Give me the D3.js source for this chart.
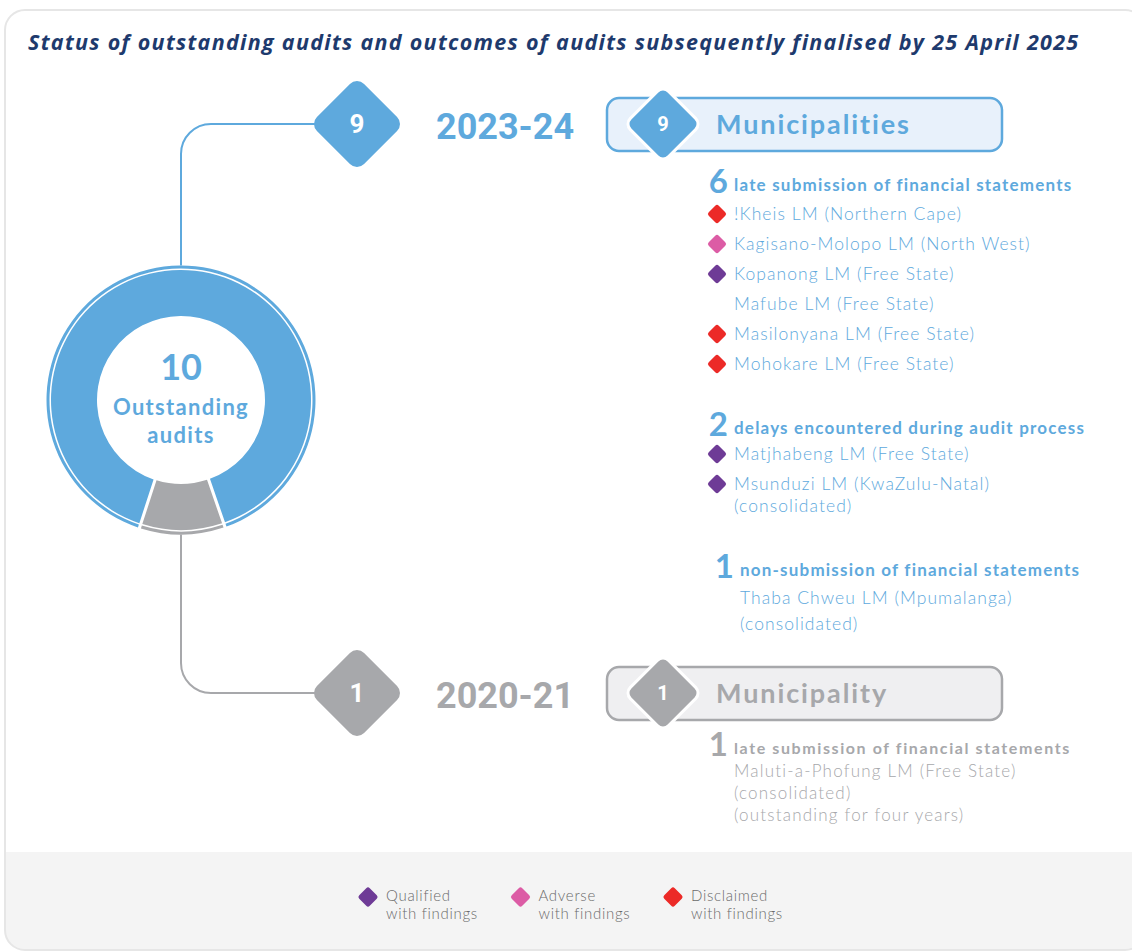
<!DOCTYPE html>
<html>
<head>
<meta charset="utf-8">
<script src="https://cdn.jsdelivr.net/npm/d3@7"></script>
<style>
  html, body { margin: 0; padding: 0; background: #fff; }
  svg { display: block; }
</style>
</head>
<body>
<svg id="chart" width="1132" height="951"></svg>
<script>
const title = 'Status of outstanding audits and outcomes of audits subsequently finalised by 25 April 2025';

// outstanding audits per financial year
const years = ['2023-24', '2020-21'];
const outstanding = [9, 1];
const unitLabels = ['Municipalities', 'Municipality'];

// reasons the audits are outstanding
const reasonYear = ['2023-24', '2023-24', '2023-24', '2020-21'];
const reasonCounts = [6, 2, 1, 1];
const reasonLabels = [
    'late submission of financial statements',
    'delays encountered during audit process',
    'non-submission of financial statements',
    'late submission of financial statements'
];

// auditees, the reason they belong to and the outcome once finalised
const auditeeNames = [
    '!Kheis LM (Northern Cape)',
    'Kagisano-Molopo LM (North West)',
    'Kopanong LM (Free State)',
    'Mafube LM (Free State)',
    'Masilonyana LM (Free State)',
    'Mohokare LM (Free State)',
    'Matjhabeng LM (Free State)',
    'Msunduzi LM (KwaZulu-Natal)',
    'Thaba Chweu LM (Mpumalanga)',
    'Maluti-a-Phofung LM (Free State)'
];
const auditeeReason = [0, 0, 0, 0, 0, 0, 1, 1, 2, 3];
const auditeeOutcome = ['Disclaimed', 'Adverse', 'Qualified', null, 'Disclaimed', 'Disclaimed',
    'Qualified', 'Qualified', null, null];
const auditeeNotes = [[], [], [], [], [], [], [], ['(consolidated)'], ['(consolidated)'],
    ['(consolidated)', '(outstanding for four years)']];

const outcomes = ['Qualified', 'Adverse', 'Disclaimed'];
const outcomeSubLabel = 'with findings';

const width = 1132;
const height = 951;
const svg = d3.select('#chart');

const yearColor = d3.scaleOrdinal().domain(years).range(['#5ea9dd', '#a7a8ab']);
const yearFill = d3.scaleOrdinal().domain(years).range(['#e8f1fb', '#efeff1']);
const outcomeColor = d3.scaleOrdinal().domain(outcomes).range(['#6e3b96', '#dc5ca5', '#ec2a27']);

const numFont = 'Roboto, sans-serif';
const headFont = 'Lato, sans-serif';
const bodyFont = 'Lato, sans-serif';

// card + legend strip
const defs = svg.append('defs');
defs.append('clipPath').attr('id', 'card-clip')
    .append('rect')
    .attr('x', 5).attr('y', 10).attr('width', 1140).attr('height', 940).attr('rx', 20);

svg.append('rect')
    .attr('x', 5).attr('y', 10).attr('width', 1140).attr('height', 940).attr('rx', 20)
    .attr('fill', '#fff');
svg.append('rect')
    .attr('clip-path', 'url(#card-clip)')
    .attr('x', 0).attr('y', 852).attr('width', width).attr('height', 110)
    .attr('fill', '#f4f4f4');
svg.append('rect')
    .attr('x', 5).attr('y', 10).attr('width', 1140).attr('height', 940).attr('rx', 20)
    .attr('fill', 'none').attr('stroke', '#e6e6e6').attr('stroke-width', 2);

svg.append('text')
    .attr('x', 28).attr('y', 50)
    .attr('font-family', 'Open Sans, sans-serif')
    .attr('font-weight', 700).attr('font-style', 'italic')
    .attr('font-size', 21.5)
    .attr('letter-spacing', 1.3)
    .attr('fill', '#1e3a6d')
    .text(title);

function diamond(g, cx, cy, extent, r) {
    const s = (extent + r * (Math.SQRT2 - 1)) * Math.SQRT2;
    return g.append('rect')
        .attr('transform', `translate(${cx},${cy}) rotate(45)`)
        .attr('x', -s / 2).attr('y', -s / 2)
        .attr('width', s).attr('height', s)
        .attr('rx', r);
}

// donut
const cx = 181, cy = 400;
const pie = d3.pie().sort(null)
    .startAngle(Math.PI + Math.PI / 10)
    .endAngle(3 * Math.PI + Math.PI / 10)
    .padAngle(0.024);
const arcs = pie(outstanding).map((d, i) => Object.assign(d, { year: years[i] }));

const donut = svg.append('g').attr('transform', `translate(${cx},${cy})`);
const mainArc = d3.arc().innerRadius(84).outerRadius(130).padRadius(130);
const rimArc = d3.arc().innerRadius(131.5).outerRadius(134.5).padRadius(130);

donut.selectAll('path.main').data(arcs).join('path')
    .attr('class', 'main')
    .attr('d', mainArc)
    .attr('fill', d => yearColor(d.year));
donut.selectAll('path.rim').data(arcs).join('path')
    .attr('class', 'rim')
    .attr('d', rimArc)
    .attr('fill', d => yearColor(d.year));

donut.append('text')
    .attr('y', -20).attr('text-anchor', 'middle')
    .attr('font-family', headFont).attr('font-weight', 700).attr('font-size', 36)
    .attr('fill', yearColor(years[0]))
    .text(d3.sum(outstanding));
donut.append('text')
    .attr('y', 15).attr('text-anchor', 'middle')
    .attr('font-family', headFont).attr('font-weight', 700).attr('font-size', 22)
    .attr('letter-spacing', 1.3)
    .attr('fill', yearColor(years[0]))
    .text('Outstanding');
donut.append('text')
    .attr('y', 43).attr('text-anchor', 'middle')
    .attr('font-family', headFont).attr('font-weight', 700).attr('font-size', 22)
    .attr('letter-spacing', 1.3)
    .attr('fill', yearColor(years[0]))
    .text('audits');

// year panels
const panelY = d3.scalePoint().domain(years).range([124, 693]);
const rimR = 134.5;
const bend = 30;
const diamondX = 357;

years.forEach((year, i) => {
    const y = panelY(year);
    const color = yearColor(year);
    const up = y < cy;
    const y0 = up ? cy - rimR : cy + rimR;
    const dir = up ? -1 : 1;

    const p = d3.path();
    p.moveTo(cx, y0);
    p.lineTo(cx, y - dir * bend);
    p.arcTo(cx, y, cx + bend, y, bend);
    p.lineTo(diamondX - 40, y);
    svg.append('path').attr('d', p.toString())
        .attr('fill', 'none').attr('stroke', color).attr('stroke-width', 2);

    diamond(svg, diamondX, y, 43, 10).attr('fill', color);
    svg.append('text')
        .attr('x', diamondX).attr('y', y + 9).attr('text-anchor', 'middle')
        .attr('font-family', numFont).attr('font-weight', 700).attr('font-size', 26)
        .attr('fill', '#fff')
        .text(outstanding[i]);

    svg.append('text')
        .attr('x', 436).attr('y', y + 15)
        .attr('font-family', numFont).attr('font-weight', 700).attr('font-size', 36)
        .attr('fill', color)
        .text(year);

    svg.append('rect')
        .attr('x', 607).attr('y', y - 26).attr('width', 395).attr('height', 53).attr('rx', 12)
        .attr('fill', yearFill(year)).attr('stroke', color).attr('stroke-width', 2.5);
    diamond(svg, 663, y, 35, 8)
        .attr('fill', color).attr('stroke', '#fff').attr('stroke-width', 3);
    svg.append('text')
        .attr('x', 663).attr('y', y + 7).attr('text-anchor', 'middle')
        .attr('font-family', numFont).attr('font-weight', 700).attr('font-size', 20)
        .attr('fill', '#fff')
        .text(outstanding[i]);
    svg.append('text')
        .attr('x', 716).attr('y', y + 10)
        .attr('font-family', headFont).attr('font-weight', 700).attr('font-size', 27)
        .attr('letter-spacing', 1.9)
        .attr('fill', color)
        .text(unitLabels[i]);
});

// reasons and auditee lists
const listX = 734;
const indent = [0, 0, 6, 0];
const itemStep = [30, 30, 28, 23];
const noteStep = [22, 22, 26, 22];
const firstStep = [29, 26, 28, 23];
const groupStart = { '2023-24': 61, '2020-21': 55 };
const groupGap = 64;

let cursor = {};
reasonCounts.forEach((count, r) => {
    const year = reasonYear[r];
    const color = yearColor(year);
    const main = year === years[0];
    const x = listX + indent[r];
    let y = cursor[year] === undefined ? panelY(year) + groupStart[year] : cursor[year] + groupGap;

    const g = svg.append('g');
    g.append('text')
        .attr('x', x - 6).attr('y', y + 8).attr('text-anchor', 'end')
        .attr('font-family', headFont).attr('font-weight', 700).attr('font-size', 33)
        .attr('fill', color)
        .text(count);
    g.append('text')
        .attr('x', x).attr('y', y + 6)
        .attr('font-family', headFont).attr('font-weight', 700)
        .attr('font-size', main ? 17 : 16)
        .attr('letter-spacing', main ? 1.2 : 1.6)
        .attr('fill', color)
        .text(reasonLabels[r]);

    let step = firstStep[r];
    auditeeNames.forEach((name, a) => {
        if (auditeeReason[a] !== r) return;
        y += step;
        step = itemStep[r];
        if (auditeeOutcome[a]) {
            diamond(g, x - 17, y, 9, 2.5).attr('fill', outcomeColor(auditeeOutcome[a]));
        }
        const lines = [name].concat(auditeeNotes[a]);
        lines.forEach((line, k) => {
            if (k > 0) y += noteStep[r];
            g.append('text')
                .attr('x', x).attr('y', y + 6)
                .attr('font-family', bodyFont).attr('font-weight', 300)
                .attr('font-size', main ? 17.5 : 17)
                .attr('letter-spacing', main ? 1.05 : 1.2)
                .attr('fill', color)
                .text(line);
        });
    });
    cursor[year] = y;
});

// legend
const legendX = d3.scalePoint().domain(outcomes).range([368, 673]);
const legend = svg.append('g').selectAll('g').data(outcomes).join('g')
    .attr('transform', d => `translate(${legendX(d)},897)`);
legend.each(function (d) {
    diamond(d3.select(this), 0, 0, 9.5, 2.5).attr('fill', outcomeColor(d));
});
legend.append('text')
    .attr('x', 18).attr('y', 4)
    .attr('font-family', bodyFont).attr('font-weight', 300).attr('font-size', 15)
    .attr('letter-spacing', 0.7)
    .attr('fill', '#6b6b6b')
    .text(d => d);
legend.append('text')
    .attr('x', 18).attr('y', 22)
    .attr('font-family', bodyFont).attr('font-weight', 300).attr('font-size', 15)
    .attr('letter-spacing', 0.7)
    .attr('fill', '#6b6b6b')
    .text(outcomeSubLabel);
</script>
</body>
</html>
